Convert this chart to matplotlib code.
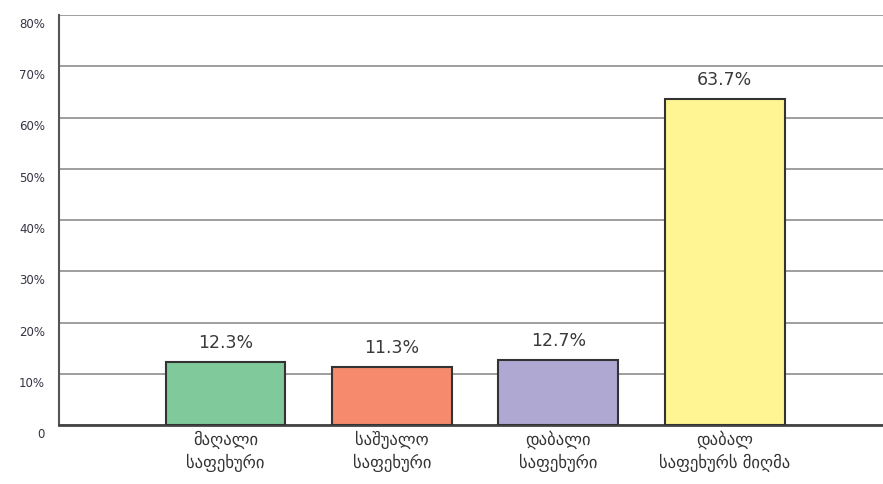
import matplotlib
matplotlib.use("Agg")
import matplotlib.pyplot as plt
import matplotlib.transforms as mtransforms

categories = ["მაღალი\nსაფეხური", "საშუალო\nსაფეხური", "დაბალი\nსაფეხური", "დაბალ\nსაფეხურს მიღმა"]
values = [12.3, 11.3, 12.7, 63.7]
value_labels = ["12.3%", "11.3%", "12.7%", "63.7%"]
yticks = [0, 10, 20, 30, 40, 50, 60, 70, 80]
ytick_labels = ["0", "10%", "20%", "30%", "40%", "50%", "60%", "70%", "80%"]
colors = ["#7fc99a", "#f58a6c", "#aea8d3", "#fff593"]

plt.rcParams['font.family'] = ['DejaVu Sans']
fig = plt.figure(figsize=(8.83, 4.84), dpi=100)
ax = fig.add_axes([59/883, 59/484, 1 - 59/883, 410/484])

x = list(range(len(categories)))
ax.bar(x, values, width=0.72, color=colors, edgecolor="#333333", linewidth=1.5, zorder=3)
for xi, v, lab in zip(x, values, value_labels):
    ax.annotate(lab, (xi, v), xytext=(0, 7), textcoords="offset points",
                ha="center", va="bottom", fontsize=12.5, color="#3a3a3a", zorder=4)

ax.set_xlim(-1.0, 3.95)
ax.set_ylim(0, 80)
ax.set_yticks(yticks)
ax.set_yticklabels(ytick_labels, fontsize=8.5, color="#333344")
ax.yaxis.grid(True, color="#8e8e8e", linewidth=1.2, zorder=0)
ax.set_axisbelow(True)
ax.tick_params(axis="y", length=0, pad=10)
ax.tick_params(axis="x", length=0, pad=4)
ax.set_xticks(x)
ax.set_xticklabels(categories, fontsize=12, color="#333333", linespacing=1.35)

offset = mtransforms.ScaledTranslation(0, -8/100, fig.dpi_scale_trans)
for lab in ax.get_yticklabels():
    lab.set_transform(lab.get_transform() + offset)

for s in ["top", "right"]:
    ax.spines[s].set_visible(False)
ax.spines["left"].set_color("#555555")
ax.spines["left"].set_linewidth(1.5)
ax.spines["bottom"].set_color("#444444")
ax.spines["bottom"].set_linewidth(2)

fig.savefig("out.png", dpi=100, facecolor="white")
